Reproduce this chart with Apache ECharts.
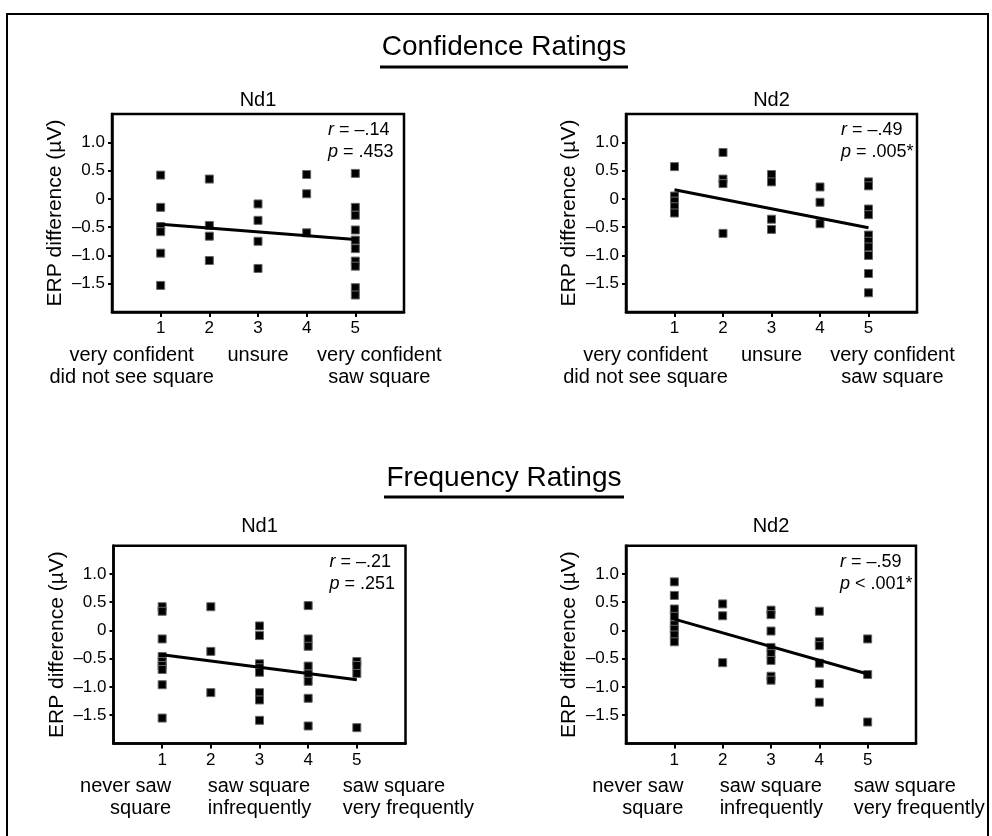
<!DOCTYPE html>
<html><head><meta charset="utf-8">
<script src="https://cdn.jsdelivr.net/npm/echarts@6/dist/echarts.min.js"></script>
<style>html,body{margin:0;padding:0;background:#fff}#c{width:992px;height:836px}</style>
</head><body><div id="c"></div>
<script>
const FONT = '"Liberation Sans", Arial, Helvetica, sans-serif';

// ---- data ----
const xTicks = [1, 2, 3, 4, 5];
const yTicks = [-1.5, -1, -0.5, 0, 0.5, 1];

const confNd1Points = [
  [1,0.42],[1,-0.15],[1,-0.49],[1,-0.58],[1,-0.96],[1,-1.53],
  [2,0.35],[2,-0.47],[2,-0.66],[2,-1.09],
  [3,-0.09],[3,-0.38],[3,-0.75],[3,-1.23],
  [4,0.43],[4,0.09],[4,-0.6],
  [5,0.45],[5,-0.15],[5,-0.29],[5,-0.55],[5,-0.73],[5,-0.88],[5,-1.1],[5,-1.19],[5,-1.57],[5,-1.7]
];
const confNd2Points = [
  [1,0.57],[1,0.05],[1,-0.04],[1,-0.14],[1,-0.25],
  [2,0.82],[2,0.35],[2,0.27],[2,-0.61],
  [3,0.43],[3,0.3],[3,-0.36],[3,-0.54],
  [4,0.21],[4,-0.06],[4,-0.44],
  [5,0.3],[5,0.23],[5,-0.18],[5,-0.28],[5,-0.64],[5,-0.75],[5,-0.85],[5,-1.0],[5,-1.32],[5,-1.66]
];
const freqNd1Points = [
  [1,0.42],[1,0.34],[1,-0.15],[1,-0.46],[1,-0.55],[1,-0.62],[1,-0.69],[1,-0.96],[1,-1.55],
  [2,0.42],[2,-0.37],[2,-1.1],
  [3,0.08],[3,-0.09],[3,-0.59],[3,-0.66],[3,-0.74],[3,-1.1],[3,-1.23],[3,-1.59],
  [4,0.44],[4,-0.15],[4,-0.28],[4,-0.63],[4,-0.77],[4,-0.9],[4,-1.2],[4,-1.69],
  [5,-0.55],[5,-0.62],[5,-0.76],[5,-1.72]
];
const freqNd2Points = [
  [1,0.86],[1,0.62],[1,0.38],[1,0.25],[1,0.1],[1,0.02],[1,-0.08],[1,-0.2],
  [2,0.47],[2,0.26],[2,-0.57],
  [3,0.36],[3,0.28],[3,-0.01],[3,-0.3],[3,-0.41],[3,-0.53],[3,-0.81],[3,-0.88],
  [4,0.34],[4,-0.2],[4,-0.27],[4,-0.58],[4,-0.94],[4,-1.27],
  [5,-0.15],[5,-0.78],[5,-1.62]
];

const confNd1Fit = [[1,-0.45],[5,-0.72]];
const confNd2Fit = [[1,0.16],[5,-0.51]];
const freqNd1Fit = [[1,-0.43],[5,-0.87]];
const freqNd2Fit = [[1,0.2],[5,-0.77]];

const panelTitles = ['Nd1', 'Nd2', 'Nd1', 'Nd2'];
const sectionTitles = ['Confidence Ratings', 'Frequency Ratings'];
const statR = ['= \u2013.14', '= \u2013.49', '= \u2013.21', '= \u2013.59'];
const statP = ['= .453', '= .005*', '= .251', '< .001*'];
const confLabels = [['very confident', 'did not see square'], ['unsure'], ['very confident', 'saw square']];
const freqLabels = [['never saw', 'square'], ['saw square', 'infrequently'], ['saw square', 'very frequently']];
const yName = 'ERP difference (\u00b5V)';

// ---- layout ----
const grids = [
  {left: 112, top: 114, width: 292, height: 198},
  {left: 626, top: 114, width: 291, height: 198},
  {left: 113.5, top: 545.7, width: 292, height: 197.8},
  {left: 626, top: 545.7, width: 290, height: 197.8}
];
const titleY = [100, 100, 526, 526];
const pointSets = [confNd1Points, confNd2Points, freqNd1Points, freqNd2Points];
const fitSets = [confNd1Fit, confNd2Fit, freqNd1Fit, freqNd2Fit];

const fmtY = v => v === 0 ? '0' : (v < 0 ? '\u2013' : '') + Math.abs(v).toFixed(1);

const option = {
  animation: false,
  backgroundColor: '#fff',
  textStyle: {fontFamily: FONT},
  grid: grids.map(g => Object.assign({show: true, borderColor: '#000', borderWidth: 2.5, containLabel: false}, g)),
  xAxis: grids.map((g, i) => ({
    type: 'value', gridIndex: i, min: 0, max: 6, interval: 1,
    axisLine: {show: true, onZero: false, lineStyle: {color: '#000', width: 2.5}},
    axisTick: {show: true, length: 5, lineStyle: {color: '#000', width: 2}, customValues: xTicks},
    axisLabel: {show: true, color: '#000', fontSize: 17, fontFamily: FONT, margin: 8, customValues: xTicks},
    splitLine: {show: false}
  })),
  yAxis: grids.map((g, i) => ({
    type: 'value', gridIndex: i, min: -2, max: 1.5, interval: 0.5,
    name: yName, nameLocation: 'middle', nameGap: 46,
    nameTextStyle: {color: '#000', fontSize: 21, fontFamily: FONT},
    axisLine: {show: true, onZero: false, lineStyle: {color: '#000', width: 2.5}},
    axisTick: {show: true, length: 4, lineStyle: {color: '#000', width: 2}, customValues: yTicks},
    axisLabel: {show: true, color: '#000', fontSize: 17, fontFamily: FONT, margin: 7, formatter: fmtY, customValues: yTicks},
    splitLine: {show: false}
  })),
  series: []
};
pointSets.forEach((pts, i) => {
  option.series.push({
    type: 'scatter', xAxisIndex: i, yAxisIndex: i, data: pts,
    symbol: 'rect', symbolSize: 8,
    itemStyle: {color: '#000', opacity: 1, borderColor: '#666', borderWidth: 1}, z: 2
  });
  option.series.push({
    type: 'line', xAxisIndex: i, yAxisIndex: i, data: fitSets[i],
    symbol: 'none', lineStyle: {color: '#000', width: 3}, z: 3, silent: true
  });
});

// ---- annotations ----
const graphics = [];
graphics.push({type: 'rect', shape: {x: 7, y: 14, width: 981, height: 840},
  style: {fill: 'none', stroke: '#000', lineWidth: 2}});
const secY = [47, 478];
const underY = [67, 497];
sectionTitles.forEach((t, k) => {
  graphics.push({type: 'text', style: {text: t, x: 504, y: secY[k], align: 'center', verticalAlign: 'middle',
    fontSize: 28, fontFamily: FONT, fill: '#000'}});
});
graphics.push({type: 'line', shape: {x1: 380, y1: underY[0], x2: 628, y2: underY[0]}, style: {stroke: '#000', lineWidth: 3}});
graphics.push({type: 'line', shape: {x1: 384, y1: underY[1], x2: 624, y2: underY[1]}, style: {stroke: '#000', lineWidth: 3}});

const txt = (text, x, y, align, size, extra) => ({type: 'text', style: Object.assign({text, x, y, align,
  verticalAlign: 'middle', fontSize: size, fontFamily: FONT, fill: '#000'}, extra || {})});

grids.forEach((g, i) => {
  const cx = g.left + g.width / 2;
  const bottom = g.top + g.height;
  const px = v => g.left + v / 6 * g.width;
  graphics.push(txt(panelTitles[i], cx, titleY[i], 'center', 20));
  const rich = {i: {fontStyle: 'italic', fontSize: 18, fontFamily: FONT, fill: '#000'},
                n: {fontSize: 18, fontFamily: FONT, fill: '#000'}};
  const sx = g.left + g.width - 76;
  graphics.push(txt('{i|r}{n| ' + statR[i] + '}', sx, g.top + 16, 'left', 18, {rich}));
  graphics.push(txt('{i|p}{n| ' + statP[i] + '}', sx, g.top + 38, 'left', 18, {rich}));
  const l1 = bottom + 43, l2 = bottom + 65;
  if (i < 2) {
    const pos = [[px(1) - 29, 'center'], [px(3), 'center'], [px(5) + 24, 'center']];
    confLabels.forEach((lines, k) => lines.forEach((s, j) =>
      graphics.push(txt(s, pos[k][0], j ? l2 : l1, pos[k][1], 20))));
  } else {
    const pos = [[px(1) + 9, 'right'], [px(2) - 3, 'left'], [px(5) - 14, 'left']];
    freqLabels.forEach((lines, k) => lines.forEach((s, j) =>
      graphics.push(txt(s, pos[k][0], j ? l2 : l1, pos[k][1], 20))));
  }
});
option.graphic = {elements: graphics};

const chart = echarts.init(document.getElementById('c'), null, {renderer: 'canvas'});
chart.setOption(option);
</script></body></html>
